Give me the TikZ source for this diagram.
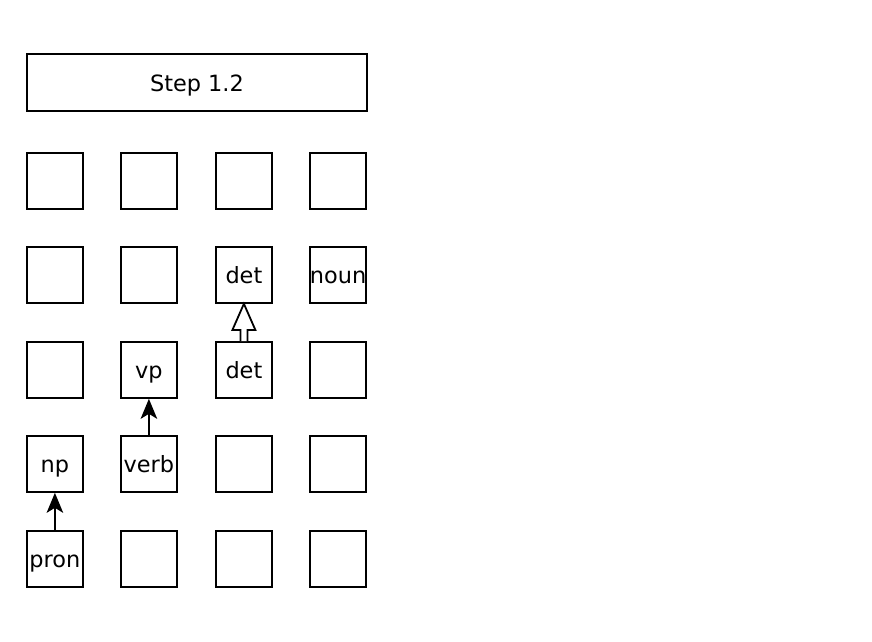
\documentclass[tikz,border=0pt]{standalone}
\usepackage{fontspec}
\setmainfont{DejaVu Sans}
\usetikzlibrary{arrows.meta,calc}
\begin{document}
\begin{tikzpicture}[x=1pt,y=-1pt,
  txt/.style={font=\fontsize{22.4}{26}\selectfont,text height=17.5pt,text depth=0pt},
  cell/.style={draw,line width=1.8pt,minimum width=56pt,minimum height=56pt,inner sep=0pt,txt,anchor=north west},
  conn/.style={line width=1.9pt,-{Stealth[length=20pt,width=16.5pt,inset=5pt]}}]
\useasboundingbox (0,0) rectangle (872,641);
\node[draw,line width=1.8pt,minimum width=340pt,minimum height=57pt,inner sep=0pt,anchor=north west,txt] (title) at (26,53) {Step 1.2};
% row 1
\node[cell] (a11) at (26,152) {};
\node[cell] (a12) at (120,152) {};
\node[cell] (a13) at (215,152) {};
\node[cell] (a14) at (309,152) {};
% row 2
\node[cell] (a21) at (26,246) {};
\node[cell] (a22) at (120,246) {};
\node[cell] (a23) at (215,246) {det};
\node[cell] (a24) at (309,246) {noun};
% row 3
\node[cell] (a31) at (26,341) {};
\node[cell] (a32) at (120,341) {vp};
\node[cell] (a33) at (215,341) {det};
\node[cell] (a34) at (309,341) {};
% row 4
\node[cell] (a41) at (26,435) {np};
\node[cell] (a42) at (120,435) {verb};
\node[cell] (a43) at (215,435) {};
\node[cell] (a44) at (309,435) {};
% row 5
\node[cell] (a51) at (26,530) {pron};
\node[cell] (a52) at (120,530) {};
\node[cell] (a53) at (215,530) {};
\node[cell] (a54) at (309,530) {};
% connectors
\draw[conn] (a51.north) -- (a41.south);
\draw[conn] (a42.north) -- (a32.south);
% hollow block arrow
\coordinate (hb) at (a33.north);
\coordinate (ht) at (a23.south);
\draw[line width=1.8pt,fill=white,line join=miter]
  ($(hb)+(-3.5,0)$) -- ($(hb)+(-3.5,-11)$) -- ($(hb)+(-11.5,-11)$) -- (ht)
  -- ($(hb)+(11.5,-11)$) -- ($(hb)+(3.5,-11)$) -- ($(hb)+(3.5,0)$);
\end{tikzpicture}
\end{document}
